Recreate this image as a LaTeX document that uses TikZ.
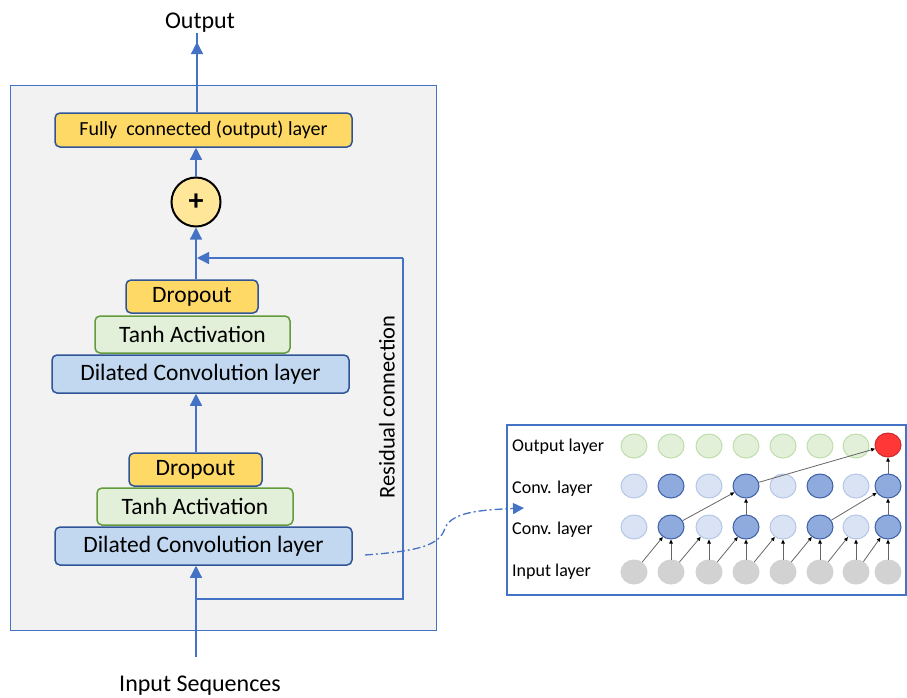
\documentclass[tikz,border=0pt]{standalone}
\usepackage{fontspec}
\setmainfont{Carlito}
\usetikzlibrary{arrows.meta,shapes.geometric}
\definecolor{bxblue}{RGB}{47,85,151}
\definecolor{arblue}{RGB}{68,114,196}
\definecolor{yfill}{RGB}{255,217,102}
\definecolor{gfill}{RGB}{226,240,217}
\definecolor{gdraw}{RGB}{100,155,60}
\definecolor{bfill}{RGB}{194,216,240}
\definecolor{pfill}{RGB}{255,230,153}
\definecolor{panel}{RGB}{242,242,242}
\definecolor{clfill}{RGB}{218,227,243}
\definecolor{cldraw}{RGB}{180,199,231}
\definecolor{cdfill}{RGB}{143,170,220}
\definecolor{cddraw}{RGB}{60,95,165}
\definecolor{ofill}{RGB}{226,240,217}
\definecolor{odraw}{RGB}{190,222,170}
\definecolor{ifill}{RGB}{210,210,210}
\definecolor{redfill}{RGB}{255,55,55}
\tikzset{
  lay/.style={draw=bxblue, line width=1.5pt, rounded corners=5pt, inner sep=0pt, align=center},
  ybox/.style={lay, fill=yfill},
  gbox/.style={lay, fill=gfill, draw=gdraw},
  bbox/.style={lay, fill=bfill},
  arr/.style={draw=arblue, line width=1.3pt, -{Triangle[length=12pt,width=12pt]}},
  rline/.style={draw=arblue, line width=1.3pt},
  cel/.style={ellipse, minimum width=26pt, minimum height=24pt, inner sep=0pt, line width=1pt},
  onode/.style={cel, fill=ofill, draw=odraw},
  clnode/.style={cel, fill=clfill, draw=cldraw},
  cdnode/.style={cel, fill=cdfill, draw=cddraw},
  inode/.style={cel, fill=ifill, draw=ifill},
  rnode/.style={cel, fill=redfill, draw=redfill!80!black},
  sarr/.style={draw=black!60, line width=0.8pt, -{Triangle[length=4pt,width=3.5pt,fill=black,color=black]}},
  lbl/.style={anchor=west, font=\fontsize{18}{20}\selectfont, inner sep=0pt}
}
\begin{document}
\begin{tikzpicture}[x=1pt,y=-1pt]
\useasboundingbox (0,0) rectangle (907,697);
% main panel
\draw[arblue, line width=1pt, fill=panel] (10,85) rectangle (436,630);
% texts
\node[font=\fontsize{24}{26}\selectfont, inner sep=0pt] (out) at (200,23) {Output};
\node[font=\fontsize{24}{26}\selectfont, inner sep=0pt] (insq) at (200,686) {Input Sequences};
\node[font=\fontsize{22.5}{24}\selectfont, rotate=90, inner sep=0pt] (resl) at (387,407) {Residual connection};
% boxes
\node[ybox, minimum width=297pt, minimum height=34pt, font=\fontsize{20}{22}\selectfont] (fc) at (203.5,130) {Fully\ \ connected (output) layer};
\node[circle, draw=black, line width=2pt, fill=pfill, minimum size=49pt, inner sep=0pt, font=\fontsize{30}{30}\selectfont\bfseries] (plus) at (196,202) {+};
\node[ybox, minimum width=132pt, minimum height=33pt, font=\fontsize{23.5}{25}\selectfont] (drop2) at (192,296.5) {Dropout};
\node[gbox, minimum width=195pt, minimum height=37pt, font=\fontsize{23.5}{25}\selectfont] (tanh2) at (192.5,334.5) {Tanh Activation};
\node[bbox, minimum width=297pt, minimum height=38pt, font=\fontsize{23.5}{25}\selectfont] (dil2) at (200.5,374) {Dilated Convolution layer};
\node[ybox, minimum width=133pt, minimum height=33pt, font=\fontsize{23.5}{25}\selectfont] (drop1) at (195.5,469.5) {Dropout};
\node[gbox, minimum width=196pt, minimum height=37pt, font=\fontsize{23.5}{25}\selectfont] (tanh1) at (195,506.5) {Tanh Activation};
\node[bbox, minimum width=297pt, minimum height=38pt, font=\fontsize{23.5}{25}\selectfont] (dil1) at (203.5,546) {Dilated Convolution layer};
% coordinates
\coordinate (inb) at (196,657);
\coordinate (rs) at (196,599);
\coordinate (rc) at (403,599);
\coordinate (rt) at (403,258);
\coordinate (re) at (197,258);
% connectors
\draw[arr] (inb) -- (inb |- dil1.south);
\draw[rline] (rs) -- (rc) -- (rt);
\draw[arr] (rt) -- (re);
\draw[arr] (drop1.north -| 196,0) -- (196,0 |- dil2.south);
\draw[arr] (drop2.north -| plus) -- (plus.south);
\draw[arr] (plus.north) -- (plus |- fc.south);
\draw[arr] (fc.north -| 197,0) -- (197,42);
\draw[rline] (197,44) -- (out.south -| 197,0);
% right panel
\draw[arblue, line width=1.3pt, fill=white] (507,425) rectangle (906,595);
\coordinate (cs) at (365,555);
\coordinate (ce) at (524,508);
\draw[draw=arblue, line width=1.3pt, dash pattern=on 8pt off 3pt on 2pt off 3pt, -{Triangle[length=11pt,width=11pt]}]
  (cs) .. controls (420,551) and (440,545) .. (445,528) .. controls (452,512) and (480,510) .. (ce);
\node[lbl] (lo) at (512,447) {Output layer};
\node[lbl] (lc2) at (512,489) {Conv. layer};
\node[lbl] (lc1) at (512,530) {Conv. layer};
\node[lbl] (li) at (512,572) {Input layer};
% ellipses
\foreach \i/\x in {0/634,1/671,2/709,3/746,4/783,5/820,6/856,7/888} {
  \node[inode] (i\i) at (\x,572) {};
}
\foreach \i/\x in {0/634,2/709,4/783,6/856} {
  \node[clnode] (a\i) at (\x,527) {};
  \node[clnode] (b\i) at (\x,486) {};
}
\foreach \i/\x in {1/671,3/746,5/820,7/888} {
  \node[cdnode] (a\i) at (\x,527) {};
  \node[cdnode] (b\i) at (\x,486) {};
}
\foreach \i/\x in {0/634,1/671,2/709,3/746,4/783,5/820,6/856} {
  \node[onode] (o\i) at (\x,446) {};
}
\node[rnode] (o7) at (888,445) {};
% small arrows
\foreach \i in {1,...,7} { \draw[sarr] (i\i) -- (a\i); }
\foreach \i/\j in {0/1,1/2,2/3,3/4,4/5,5/6,6/7} { \draw[sarr] (i\i) -- (a\j); }
\draw[sarr] (a1) -- (b3);
\draw[sarr] (a3) -- (b3);
\draw[sarr] (a5) -- (b7);
\draw[sarr] (a7) -- (b7);
\draw[sarr] (b3) -- (o7);
\draw[sarr] (b7) -- (o7);
\end{tikzpicture}
\end{document}
